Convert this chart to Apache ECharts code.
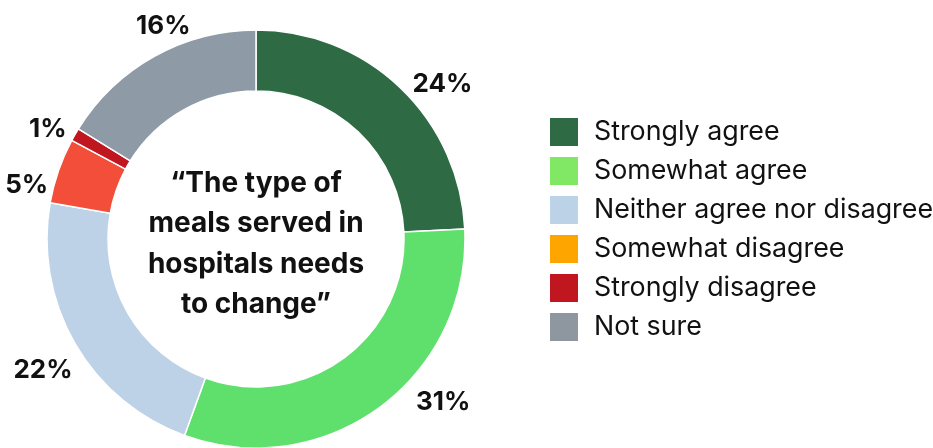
<!DOCTYPE html>
<html><head><meta charset="utf-8">
<script src="https://cdn.jsdelivr.net/npm/echarts@6/dist/echarts.min.js"></script>
<style>html,body{margin:0;padding:0;background:#fff}#c{width:933px;height:448px}</style>
</head><body><div id="c"></div>
<script>
const categories = ['Strongly agree','Somewhat agree','Neither agree nor disagree','Somewhat disagree','Strongly disagree','Not sure'];
const values = [24, 31, 22, 5, 1, 16];
const sliceColors = ['#2E6B45','#5FE06C','#BDD2E6','#F24E3A','#C0161F','#8E9AA6'];
const legendColors = ['#2E6B45','#80E864','#BCD2E6','#FFA500','#C0161F','#8E979F'];
const centerText = '“The type of\nmeals served in\nhospitals needs\nto change”';

// label nudges (style only, not data)
const labelNudge = [[-1,5],[24,-15],[13,21],[6,18],[7,1],[47,-20]];

const chart = echarts.init(document.getElementById('c'));
chart.setOption({
  animation: false,
  legend: {
    orient: 'vertical', left: 548, top: 116, padding: 0,
    itemWidth: 30, itemHeight: 30, itemGap: 7,
    icon: 'rect',
    data: categories.map((n,i)=>({name:n, itemStyle:{color:legendColors[i]}})),
    textStyle: {fontFamily:'Inter', fontSize:26.8, lineHeight:30, color:'#111', padding:[0,0,0,10]}
  },
  graphic: [{
    type:'text', x: 256, y: 244, z: 100,
    style:{text:centerText, font:'bold 28px Inter', fill:'#111', align:'center', verticalAlign:'middle', lineHeight:40.5}
  }],
  series: [{
    type:'pie', center:[256,239], radius:[148,209], startAngle:90, clockwise:true,
    avoidLabelOverlap:false,
    itemStyle:{borderColor:'#fff', borderWidth:1.5},
    label:{show:true, position:'outside', formatter:'{c}%', fontFamily:'Inter', fontWeight:'bold', fontSize:26, color:'#111'},
    labelLine:{show:false, length:12, length2:0},
    labelLayout: function(p){ const d = labelNudge[p.dataIndex]; return {dx:d[0], dy:d[1]}; },
    data: categories.map((n,i)=>({name:n, value:values[i], itemStyle:{color:sliceColors[i]}}))
  }]
});
</script></body></html>
